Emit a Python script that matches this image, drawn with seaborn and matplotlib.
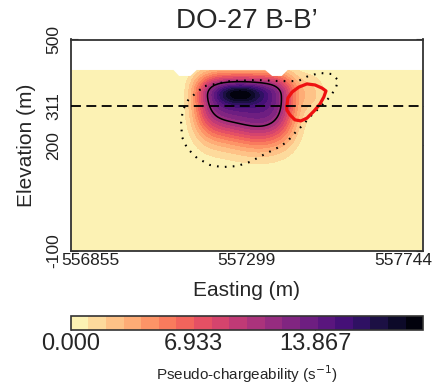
import numpy as np
import pandas as pd
import matplotlib
matplotlib.use("Agg")
import matplotlib.pyplot as plt
import seaborn as sns

# ---- section geometry (m) ----
x_range = [556800, 557800]
z_range = [-100, 500]
x_ticks = [556855, 557299, 557744]
z_ticks = [-100, 200, 311, 500]
profile_z = 311

# ground surface
topo_x = [556800, 557090, 557106, 557138, 557156, 557350, 557370, 557397, 557414, 557800]
topo_z = [415, 415, 398, 398, 415, 415, 398, 398, 415, 415]

# recovered chargeable body (super-gaussian) and its dense core
body_center = [557294, 337]
body_amp = 14.0
body_half_width = 108
body_up, body_down = 42, 72
core_center = [557280, 345]
core_amp = 6.0
core_sigma = [45, 20]
tail_center = [557335, 235]
tail_amp = 2.5
tail_sigma = [60, 50]
lobe_center = [557480, 345]
lobe_amp = 2.2
lobe_sigma = [30, 40]

# outline of reference body (dotted)
ref_x = [557181, 557252, 557328, 557394, 557445, 557473, 557507, 557541, 557558, 557552,
         557535, 557510, 557481, 557456, 557433, 557413, 557385, 557345, 557309, 557272,
         557229, 557195, 557158, 557130, 557116, 557113, 557118, 557133, 557158, 557181]
ref_z = [368, 382, 385, 382, 382, 396, 405, 402, 385, 362,
         337, 311, 283, 255, 232, 209, 192, 172, 153, 141,
         138, 144, 164, 192, 223, 263, 300, 328, 351, 368]
# outline of second target (red)
tgt_x = [557413, 557416, 557428, 557447, 557470, 557493, 557513, 557524, 557518, 557507,
         557490, 557470, 557453, 557436, 557422, 557413, 557413]
tgt_z = [311, 334, 351, 365, 374, 371, 362, 354, 337, 317,
         297, 277, 269, 272, 286, 300, 311]

cbar_ticks = [0.0, 6.933, 13.867]
levels = np.arange(0, 21, 1.0)
outline_level = 11.0

sns.set_theme(style="ticks")
plt.rcParams["font.family"] = ["Liberation Sans", "DejaVu Sans"]
plt.rcParams["axes.unicode_minus"] = False

# ---- model grid ----
xg = np.linspace(x_range[0], x_range[1], 601)
zg = np.linspace(z_range[0], z_range[1], 361)
X, Z = np.meshgrid(xg, zg)


def gauss(cx, cz, sx, sz):
    return np.exp(-0.5 * (((X - cx) / sx) ** 2 + ((Z - cz) / sz) ** 2))


u = np.abs(X - body_center[0]) / body_half_width
dz = Z - body_center[1]
w = np.where(dz > 0, dz / body_up, -dz / body_down)
k = np.log(body_amp / (outline_level - 1.0))
field = body_amp * np.exp(-k * (u ** 4.5 + np.abs(w) ** 2.4))
field += core_amp * gauss(*core_center, *core_sigma)
field += tail_amp * gauss(*tail_center, *tail_sigma)
field += lobe_amp * gauss(*lobe_center, *lobe_sigma)
field = np.clip(field, 0, levels[-1] - 1e-6)

# ---- figure ----
fig = plt.figure(figsize=(4.35, 3.85), dpi=100)
ax = fig.add_axes([70.7 / 435, 1 - 251 / 385, 352.6 / 435, 211.5 / 385])

cf = ax.contourf(X, Z, field, levels=levels, cmap="magma_r", zorder=1)
ax.contour(X, Z, field, levels=[outline_level], colors="black", linewidths=1.1, zorder=3)

ax.fill_between(topo_x, topo_z, z_range[1], color="white", lw=0, zorder=2)

ref = pd.DataFrame({"x": ref_x, "z": ref_z})
tgt = pd.DataFrame({"x": tgt_x, "z": tgt_z})
sns.lineplot(data=ref, x="x", y="z", sort=False, estimator=None, color="black",
             lw=1.5, ls=(0, (0.8, 3.0)), ax=ax, zorder=4)
sns.lineplot(data=tgt, x="x", y="z", sort=False, estimator=None, color="#ee1111",
             lw=2.3, ax=ax, zorder=5)
ax.axhline(profile_z, color="black", lw=1.3, ls=(0, (5.5, 3.0)), zorder=6)

ax.set_xlim(x_range)
ax.set_ylim(z_range)
ax.set_xticks(x_ticks)
ax.set_xticklabels([str(v) for v in x_ticks], fontsize=12.5)
ax.set_yticks(z_ticks)
ax.set_yticklabels([str(v) for v in z_ticks], rotation=90, va="center", fontsize=12.5)
ax.tick_params(axis="x", direction="in", length=5, width=0.8, top=True, pad=1.5, colors="#222222")
ax.tick_params(axis="y", direction="in", length=5, width=0.8, right=True, pad=7, colors="#222222")
for s in ax.spines.values():
    s.set_color("#333333")
    s.set_linewidth(1.3)
ax.set_xlabel("")
ax.set_ylabel("")

fig.text(247 / 435, 1 - 20.5 / 385, "DO-27 B-B\u2019", ha="center", va="center", fontsize=20)
fig.text(247 / 435, 1 - 291 / 385, "Easting (m)", ha="center", va="center", fontsize=15)
fig.text(27 / 435, 1 - 145 / 385, "Elevation (m)", ha="center", va="center", rotation=90, fontsize=15)

cax = fig.add_axes([70.7 / 435, 1 - 330 / 385, 352.6 / 435, 14 / 385])
cb = fig.colorbar(cf, cax=cax, orientation="horizontal", ticks=cbar_ticks)
cb.ax.set_xticklabels([f"{t:.3f}" for t in cbar_ticks])
cb.ax.tick_params(direction="in", length=5, width=0.8, labelsize=17, pad=2)
cb.outline.set_edgecolor("#333333")
cb.outline.set_linewidth(1.2)
cb.set_label("Pseudo-chargeability (s$^{-1}$)", fontsize=11, labelpad=6)

fig.savefig("out.png", dpi=100, facecolor="white")
